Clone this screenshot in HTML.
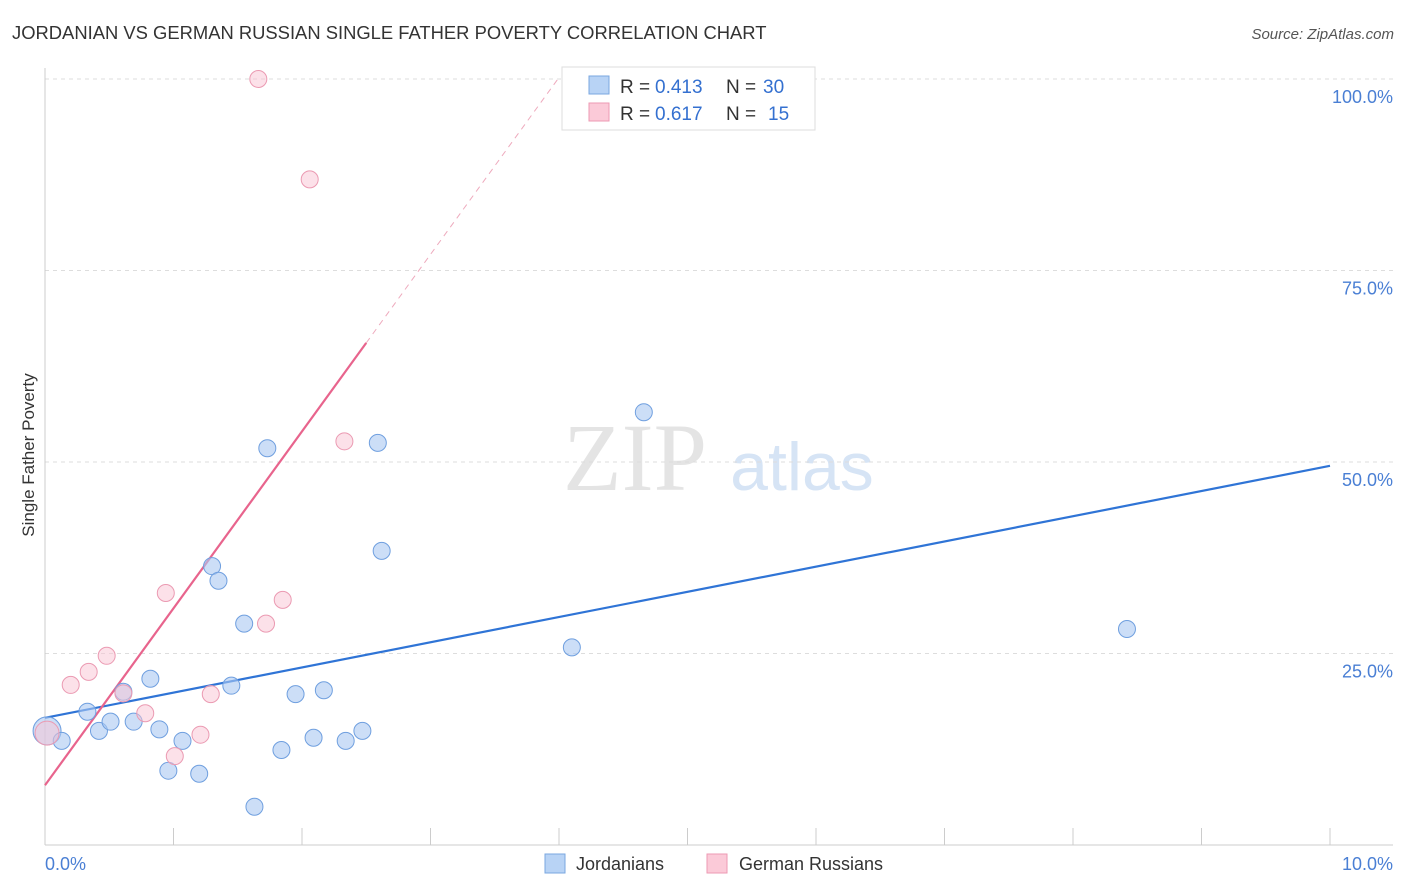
<!DOCTYPE html>
<html><head><meta charset="utf-8"><style>
body{margin:0;background:#fff;font-family:"Liberation Sans",sans-serif}
svg{display:block}
</style></head><body>
<svg width="1406" height="892" xmlns="http://www.w3.org/2000/svg">
<text x="12" y="39" font-size="18.4" fill="#333">JORDANIAN VS GERMAN RUSSIAN SINGLE FATHER POVERTY CORRELATION CHART</text>
<text x="1394" y="39" font-size="15" fill="#555" font-style="italic" text-anchor="end">Source: ZipAtlas.com</text>
<text x="635" y="490" font-size="96" fill="#e4e4e4" font-family="Liberation Serif,serif" text-anchor="middle">ZIP</text>
<text x="802" y="490" font-size="68" fill="#d6e4f5" text-anchor="middle">atlas</text>
<g id="grid"></g>
<g id="axes"></g>
<g id="lines"></g>
<g id="points"></g>
<text x="34" y="455" font-size="17" fill="#333" text-anchor="middle" transform="rotate(-90 34 455)">Single Father Poverty</text>
<text x="45" y="870" font-size="18" fill="#4a7fd4">0.0%</text>
<text x="1393" y="870" font-size="18" fill="#4a7fd4" text-anchor="end">10.0%</text>
<g>
<rect x="562" y="67" width="253" height="63" fill="#fff" stroke="#ddd"/>
<rect x="589" y="76" width="20" height="18" fill="#b8d3f5" stroke="#7aa7e0"/>
<rect x="589" y="103" width="20" height="18" fill="#fbcad8" stroke="#ee9ab3"/>
<text x="620" y="93" font-size="19" fill="#333">R =</text>
<text x="655" y="93" font-size="19" fill="#3470d0">0.413</text>
<text x="726" y="93" font-size="19" fill="#333">N =</text>
<text x="763" y="93" font-size="19" fill="#3470d0">30</text>
<text x="620" y="120" font-size="19" fill="#333">R =</text>
<text x="655" y="120" font-size="19" fill="#3470d0">0.617</text>
<text x="726" y="120" font-size="19" fill="#333">N =</text>
<text x="768" y="120" font-size="19" fill="#3470d0">15</text>
</g>
<g>
<rect x="545" y="854" width="20" height="19" fill="#b8d3f5" stroke="#7aa7e0"/>
<text x="576" y="870" font-size="18" fill="#333">Jordanians</text>
<rect x="707" y="854" width="20" height="19" fill="#fbcad8" stroke="#ee9ab3"/>
<text x="739" y="870" font-size="18" fill="#333">German Russians</text>
</g>
</svg>
<script>
const blueX=[0.016,0.13,0.33,0.42,0.51,0.61,0.69,0.82,0.89,0.96,1.07,1.20,1.30,1.35,1.45,1.55,1.63,1.73,1.84,1.95,2.09,2.17,2.34,2.47,2.59,2.62,4.10,4.66,8.42];
const blueY=[14.9,13.6,17.4,14.9,16.1,20.0,16.1,21.7,15.1,9.7,13.6,9.3,36.4,34.5,20.8,28.9,5.0,51.8,12.4,19.7,14.0,20.2,13.6,14.9,52.5,38.4,25.8,56.5,28.2];
const pinkX=[1.66,2.06,2.33,1.85,1.72,0.94,0.48,0.34,0.20,0.61,0.78,1.29,1.21,1.01,0.016];
const pinkY=[100,86.9,52.7,32.0,28.9,32.9,24.7,22.6,20.9,19.8,17.2,19.7,14.4,11.6,14.6];
const yTicks=[25,50,75,100];
const yTickLabels=["25.0%","50.0%","75.0%","100.0%"];
const blueFit=[16.6,49.5];
const pinkFit=[7.8,23.1];
const NS="http://www.w3.org/2000/svg";
const sx=v=>45+v*128.5, sy=v=>845-v*7.66;
function mk(t,a,p){const e=document.createElementNS(NS,t);for(const k in a)e.setAttribute(k,a[k]);document.getElementById(p).appendChild(e);return e;}
yTicks.forEach((t,i)=>{
 const l=mk('line',{x1:45,x2:1393,y1:sy(t),y2:sy(t),stroke:'#ddd','stroke-dasharray':'4,4'},'grid');
 
 
 const tx=mk('text',{x:1393,y:sy(t)+24,'font-size':18,fill:'#4a7fd4','text-anchor':'end'},'grid');
 tx.textContent=yTickLabels[i];
 
 
});
const ax=mk('line',{x1:45,x2:1393,y1:845,y2:845,stroke:'#ccc'},'axes');


const ay=mk('line',{x1:45,x2:45,y1:68,y2:845,stroke:'#ccc'},'axes');


for(let i=1;i<=10;i++){const t=mk('line',{x1:sx(i),x2:sx(i),y1:828,y2:845,stroke:'#ccc'},'axes');
 
 }
const bl=mk('line',{x1:sx(0),y1:sy(blueFit[0]),x2:sx(10),y2:sy(blueFit[1]),stroke:'#2f74d6','stroke-width':2.2},'lines');


const pEnd=2.5, pMax=(100-pinkFit[0])/pinkFit[1];
const pl=mk('line',{x1:sx(0),y1:sy(pinkFit[0]),x2:sx(pEnd),y2:sy(pinkFit[0]+pinkFit[1]*pEnd),stroke:'#e8648d','stroke-width':2.2},'lines');


const pd=mk('line',{x1:sx(pEnd),y1:sy(pinkFit[0]+pinkFit[1]*pEnd),x2:sx(pMax),y2:sy(100),stroke:'#eeaabd','stroke-width':1,'stroke-dasharray':'6,5'},'lines');


blueX.forEach((x,i)=>{const c=mk('circle',{cx:sx(x),cy:sy(blueY[i]),r:i==0?14:8.5,fill:'rgba(170,200,242,0.6)',stroke:'#6f9fdf','stroke-width':1},'points');
 
 });
pinkX.forEach((x,i)=>{const c=mk('circle',{cx:sx(x),cy:sy(pinkY[i]),r:i==14?12:8.5,fill:'rgba(250,195,212,0.5)',stroke:'#eb9ab2','stroke-width':1},'points');
 
 });
</script>
</body></html>
